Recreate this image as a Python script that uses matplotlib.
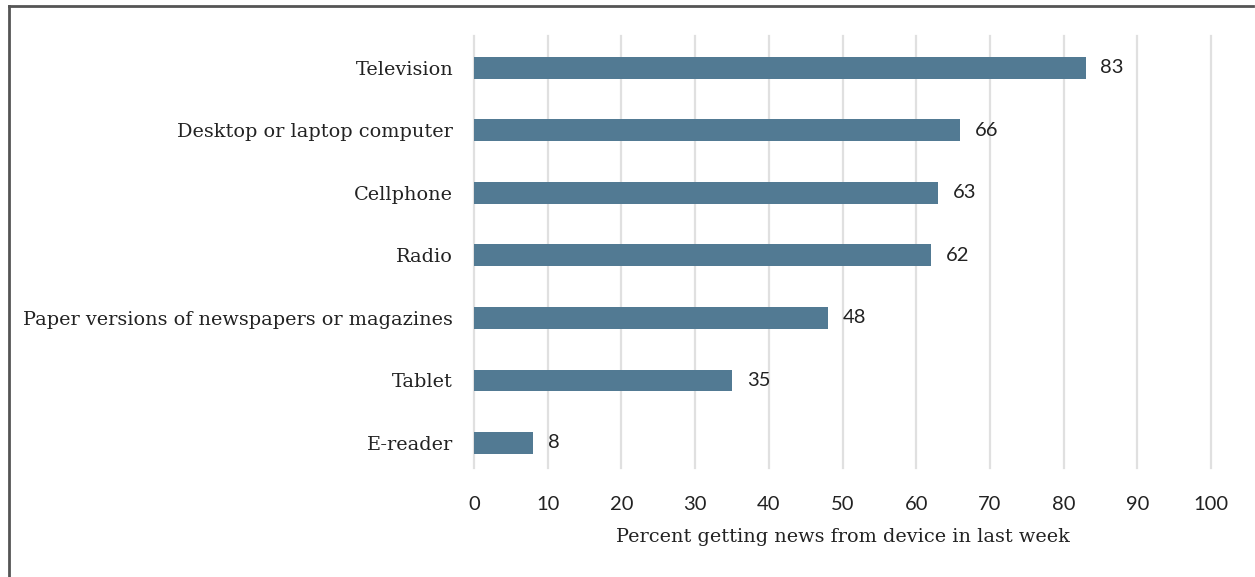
import matplotlib
matplotlib.use("Agg")
import matplotlib.pyplot as plt
from matplotlib.lines import Line2D

categories = ["Television", "Desktop or laptop computer", "Cellphone", "Radio",
              "Paper versions of newspapers or magazines", "Tablet", "E-reader"]
values = [83, 66, 63, 62, 48, 35, 8]
xticks = [0, 10, 20, 30, 40, 50, 60, 70, 80, 90, 100]
xlabel = "Percent getting news from device in last week"

W, H = 1255, 577
fig = plt.figure(figsize=(W / 100, H / 100), dpi=100)
ax = fig.add_axes([474 / W, 1 - 468 / H, (1211 - 474) / W, (468 - 36) / H])

label_font = {"family": ["DejaVu Serif"], "size": 13.9, "color": "#222222"}
num_font = {"family": ["Lato", "DejaVu Sans"], "size": 14.5, "color": "#222222"}

pos = list(range(len(categories)))
ax.barh(pos, values, height=0.35, color="#527A93", zorder=3)
for p, v in zip(pos, values):
    ax.text(v + 2.0, p, str(v), va="center", ha="left", fontdict=num_font)

ax.set_xlim(0, 100)
ax.set_ylim(6.4, -0.51)
ax.set_xticks(xticks)
ax.set_xticklabels([str(t) for t in xticks], fontdict=num_font)
ax.set_yticks(pos)
ax.set_yticklabels(categories, fontdict=label_font)
ax.tick_params(axis="x", length=0, pad=20)
ax.tick_params(axis="y", length=0, pad=15)
ax.set_xlabel(xlabel, fontdict=label_font, labelpad=11)
for t in xticks:
    ax.axvline(t, color="#e0e0e0", linewidth=1.6, zorder=0, clip_on=False)
for s in ax.spines.values():
    s.set_visible(False)

# outer frame (open at the right and bottom)
fig.add_artist(Line2D([9 / W, 9 / W], [0, 1 - 6 / H], transform=fig.transFigure,
                      color="#555555", linewidth=2))
fig.add_artist(Line2D([9 / W, 1253 / W], [1 - 6 / H, 1 - 6 / H], transform=fig.transFigure,
                      color="#555555", linewidth=2))

fig.savefig("out.png", dpi=100)
